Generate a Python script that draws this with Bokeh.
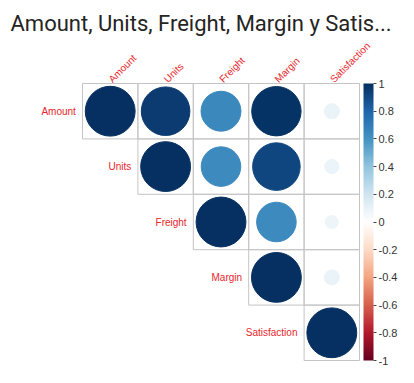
import numpy as np
from bokeh.plotting import figure
from bokeh.models import (ColumnDataSource, ColorBar, LinearColorMapper, FixedTicker,
                          CustomJSTickFormatter, Range1d)
from bokeh.core.properties import value
from bokeh.embed import file_html
from bokeh.resources import INLINE

# ---------------- data ----------------
variables = ["Amount", "Units", "Freight", "Margin", "Satisfaction"]
# upper triangle of the correlation matrix, row by row (starting at the diagonal)
amount_row = [1.00, 0.95, 0.64, 0.98, 0.09]
units_row = [1.00, 0.63, 0.91, 0.08]
freight_row = [1.00, 0.63, 0.07]
margin_row = [1.00, 0.09]
satisfaction_row = [1.00]
colorbar_ticks = [-1, -0.8, -0.6, -0.4, -0.2, 0, 0.2, 0.4, 0.6, 0.8, 1]
title_text = "Amount, Units, Freight, Margin y Satis..."

rows = [amount_row, units_row, freight_row, margin_row, satisfaction_row]
n = len(variables)

# corrplot COL2('RdBu') palette, 200 colours
stops = ["#67001F", "#B2182B", "#D6604D", "#F4A582", "#FDDBC7", "#FFFFFF",
         "#D1E5F0", "#92C5DE", "#4393C3", "#2166AC", "#053061"]
rgb = np.array([[int(s[i:i + 2], 16) for i in (1, 3, 5)] for s in stops], float)
pos = np.linspace(0, 1, len(stops))
t = np.linspace(0, 1, 200)
palette = ["#%02x%02x%02x" % tuple(int(round(np.interp(tt, pos, rgb[:, c]))) for c in range(3)) for tt in t]
mapper = LinearColorMapper(palette=palette, low=-1, high=1)

xs, ys, rs, rad = [], [], [], []
for i, row in enumerate(rows):
    for k, r in enumerate(row):
        j = i + k
        xs.append(j + 0.5)
        ys.append(n - i - 0.5)
        rs.append(r)
        rad.append(0.45 * np.sqrt(abs(r)))
src = ColumnDataSource(dict(x=xs, y=ys, r=rs, rad=rad))

# ---------------- layout ----------------
W, H = 398, 367
TOP = 40          # title band
CELL = 55.4       # px per cell
grid_left = 82    # px from frame left
grid_top = 43     # px from frame top
frame_h = H - TOP

x0 = -grid_left / CELL
y1 = n + grid_top / CELL
p = figure(width=W, height=H, output_backend="svg", toolbar_location=None,
           x_range=Range1d(x0, x0 + W / CELL), y_range=Range1d(y1 - frame_h / CELL, y1),
           min_border_left=0, min_border_right=0, min_border_bottom=0, min_border_top=TOP,
           title=title_text)
p.axis.visible = False
p.grid.visible = False
p.outline_line_color = None
p.background_fill_color = "white"
p.border_fill_color = "white"
p.title.text_font = "Roboto"
p.title.text_font_size = "22px"
p.title.text_font_style = "normal"
p.title.text_color = "#252423"
p.title.offset = 10

# grid cells
p.rect(x="x", y="y", width=1, height=1, source=src, fill_color=None,
       line_color="#C4C4C4", line_width=1)
# circles
p.circle(x="x", y="y", radius="rad", source=src,
         fill_color={"field": "r", "transform": mapper},
         line_color={"field": "r", "transform": mapper})

# row labels
p.text(x=[i - 0.12 for i in range(n)], y=[n - i - 0.5 for i in range(n)], text=variables,
       text_align="right", text_baseline="middle", text_font=value("Liberation Sans"),
       text_font_size="10px", text_color="#E8262B")
# column labels
p.text(x=[j + 0.5 for j in range(n)], y=[n + 0.05] * n, text=variables, angle=np.pi / 4,
       text_align="left", text_baseline="middle", text_font=value("Liberation Sans"),
       text_font_size="10px", text_color="#E8262B")

bar_h = n * CELL
cb = ColorBar(color_mapper=mapper, ticker=FixedTicker(ticks=colorbar_ticks),
              formatter=CustomJSTickFormatter(code="return String(Math.round(tick*10)/10)"),
              width=10, height=round(bar_h),
              location=(round(grid_left + bar_h + 4), round(frame_h - grid_top - bar_h)),
              padding=0, margin=0,
              label_standoff=2, major_tick_out=3, major_tick_in=0,
              major_tick_line_color="#444444", bar_line_color=None, border_line_color=None,
              background_fill_alpha=0, major_label_text_font_size="11px",
              major_label_text_font="Liberation Sans", major_label_text_color="#333333")
p.add_layout(cb)

open("out.html", "w").write(file_html(p, INLINE))
